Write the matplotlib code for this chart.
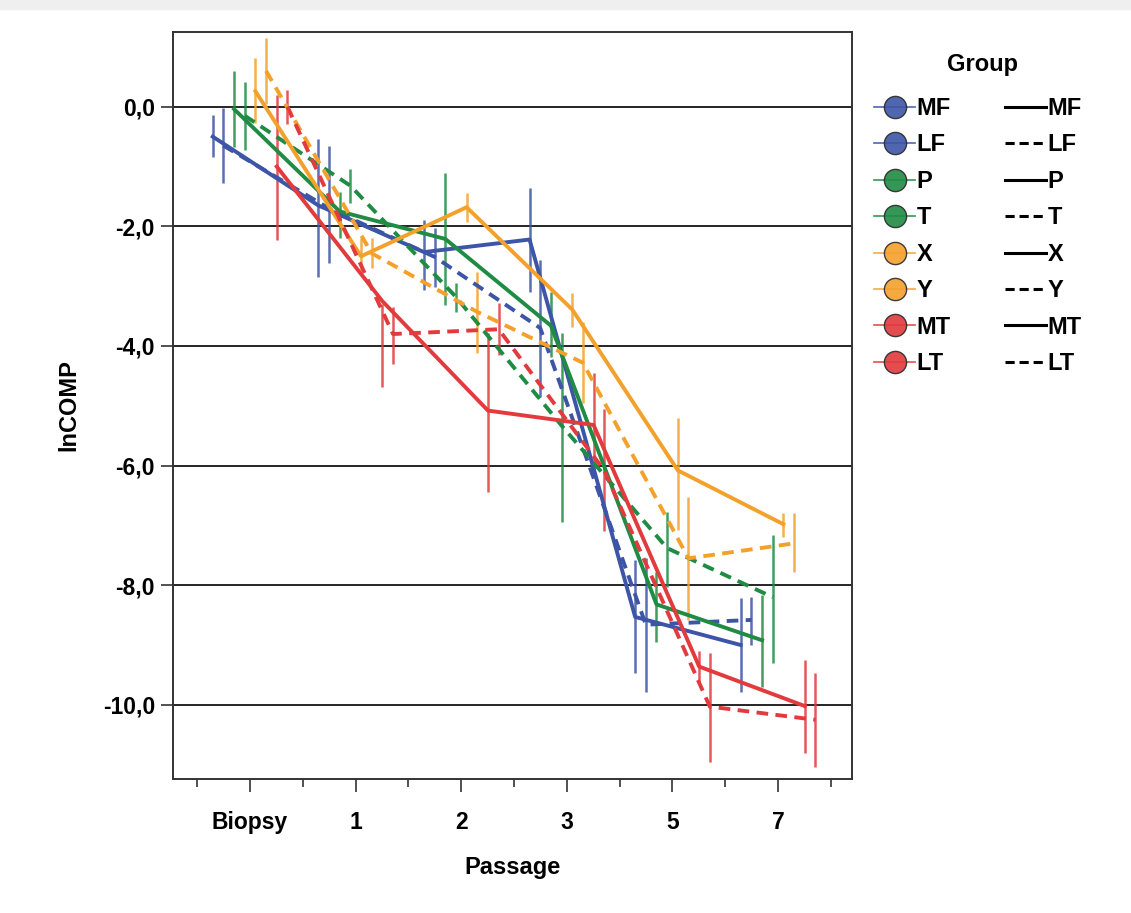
import matplotlib
matplotlib.use("Agg")
import matplotlib.pyplot as plt
import numpy as np
from matplotlib.lines import Line2D
from matplotlib.patches import Rectangle

plt.rcParams['font.family'] = ['Liberation Sans', 'DejaVu Sans']
plt.rcParams['font.weight'] = 'bold'

# Passage categories (x axis)
passages = ['Biopsy', '1', '2', '3', '5', '7']

# groups, in legend order
groups = ['MF', 'LF', 'P', 'T', 'X', 'Y', 'MT', 'LT']
group_colors = ['#3d55a6', '#3d55a6', '#1f8b43', '#1f8b43',
                '#f4a12c', '#f4a12c', '#e23a3d', '#e23a3d']
group_dashed = [False, True, False, True, False, True, False, True]

# mean lnCOMP per group and passage
mean_mf = [-0.50, -1.65, -2.43, -2.22, -8.53, -9.00]
mean_lf = [-0.65, -1.70, -2.51, -3.70, -8.66, -8.58]
mean_p = [-0.04, -1.75, -2.21, -3.66, -8.32, -8.92]
mean_t = [-0.15, -1.32, -3.18, -5.33, -7.38, -8.20]
mean_x = [0.26, -2.50, -1.68, -3.39, -6.08, -6.98]
mean_y = [0.60, -2.45, -3.43, -4.28, -7.55, -7.30]
mean_mt = [-1.00, -3.25, -5.08, -5.32, -9.36, -10.02]
mean_lt = [0.00, -3.80, -3.72, -6.08, -10.03, -10.25]

# lower end of the error bars
low_mf = [-0.84, -2.84, -3.06, -3.09, -9.46, -9.78]
low_lf = [-1.27, -2.61, -3.01, -4.85, -9.78, -9.00]
low_p = [-0.67, -2.19, -3.31, -4.18, -8.95, -9.70]
low_t = [-0.72, -1.61, -3.44, -6.94, -8.03, -9.30]
low_x = [-0.27, -2.75, -1.92, -3.68, -7.07, -7.19]
low_y = [0.05, -2.70, -4.11, -4.95, -8.58, -7.78]
low_mt = [-2.22, -4.68, -6.44, -6.20, -9.65, -10.80]
low_lt = [-0.28, -4.30, -4.15, -7.10, -10.95, -11.04]

# upper end of the error bars
high_mf = [-0.13, -0.54, -1.89, -1.35, -7.58, -8.21]
high_lf = [-0.02, -0.65, -2.02, -2.56, -7.54, -8.19]
high_p = [0.59, -1.42, -1.10, -3.09, -7.78, -8.16]
high_t = [0.42, -1.04, -2.94, -3.78, -6.77, -7.16]
high_x = [0.82, -2.20, -1.44, -3.11, -5.20, -6.79]
high_y = [1.15, -2.20, -2.76, -3.60, -6.52, -6.79]
high_mt = [0.20, -3.30, -3.78, -4.45, -9.10, -9.25]
high_lt = [0.28, -3.35, -3.28, -5.05, -9.13, -9.46]

means = [mean_mf, mean_lf, mean_p, mean_t, mean_x, mean_y, mean_mt, mean_lt]
lows = [low_mf, low_lf, low_p, low_t, low_x, low_y, low_mt, low_lt]
highs = [high_mf, high_lf, high_p, high_t, high_x, high_y, high_mt, high_lt]

fig = plt.figure(figsize=(11.31, 9.13), dpi=100)
fig.patches.append(Rectangle((0, 1 - 9 / 913), 1, 9 / 913, transform=fig.transFigure,
                             color='#efefef', zorder=0))
ax = fig.add_axes([173 / 1131, 1 - 779 / 913, (852 - 173) / 1131, (779 - 32) / 913])

xpos = np.arange(len(passages))
dodge = 0.101
for i, g in enumerate(groups):
    xs = xpos + (i - 3.5) * dodge
    c = group_colors[i]
    ls = (0, (3.0, 1.9)) if group_dashed[i] else '-'
    ax.vlines(xs, lows[i], highs[i], color=c, lw=1.8, alpha=0.85, zorder=3)
    ax.plot(xs, means[i], color=c, lw=2.8, linestyle=ls, zorder=4)

for yv in np.arange(0, -11, -2):
    ax.axhline(yv, color='black', lw=1.2, zorder=1)

ax.set_xlim(-0.73, 5.70)
ax.set_ylim(-11.24, 1.25)
ax.set_xticks(xpos)
ax.set_xticklabels(passages)
ax.set_xticks(np.arange(-0.5, 6.0, 1.0), minor=True)
ax.set_yticks(np.arange(0, -11, -2))
ax.set_yticklabels([('%.1f' % v).replace('.', ',') for v in np.arange(0, -11, -2)])
ax.tick_params(axis='both', which='major', labelsize=16.5, length=9, width=1.2, color='#333333')
ax.tick_params(axis='x', which='minor', length=6, width=1.2, color='#333333')
ax.tick_params(axis='x', pad=14)
ax.tick_params(axis='y', pad=4)
for s in ax.spines.values():
    s.set_linewidth(1.4)
    s.set_color('#333333')

ax.set_xlabel('Passage', fontsize=17, fontweight='bold', labelpad=16)
ax.set_ylabel('lnCOMP', fontsize=17, fontweight='bold', labelpad=16)

# legend: marker column + line style column
handles = []
labels = []
for i, g in enumerate(groups):
    handles.append(Line2D([0], [0], color=group_colors[i], lw=1.2, alpha=0.9,
                          marker='o', markersize=16, markerfacecolor=group_colors[i],
                          markeredgecolor='#2a2a2a', markeredgewidth=1.0))
    labels.append(g)
for i, g in enumerate(groups):
    handles.append(Line2D([0], [0], color='black', lw=2.2,
                          linestyle=(0, (3.0, 1.6)) if group_dashed[i] else '-'))
    labels.append(g)

fig.text(983 / 1131, 1 - 65 / 913, 'Group', ha='center', va='center',
         fontsize=17, fontweight='bold')
leg = fig.legend(handles, labels, ncol=2, loc='upper left',
                 bbox_to_anchor=(874 / 1131, 1 - 97 / 913), frameon=False,
                 fontsize=17, handlelength=1.75, handletextpad=0.05, labelspacing=0.57,
                 columnspacing=2.3, borderaxespad=0, borderpad=0)

fig.savefig('out.png', dpi=100, facecolor='white')
